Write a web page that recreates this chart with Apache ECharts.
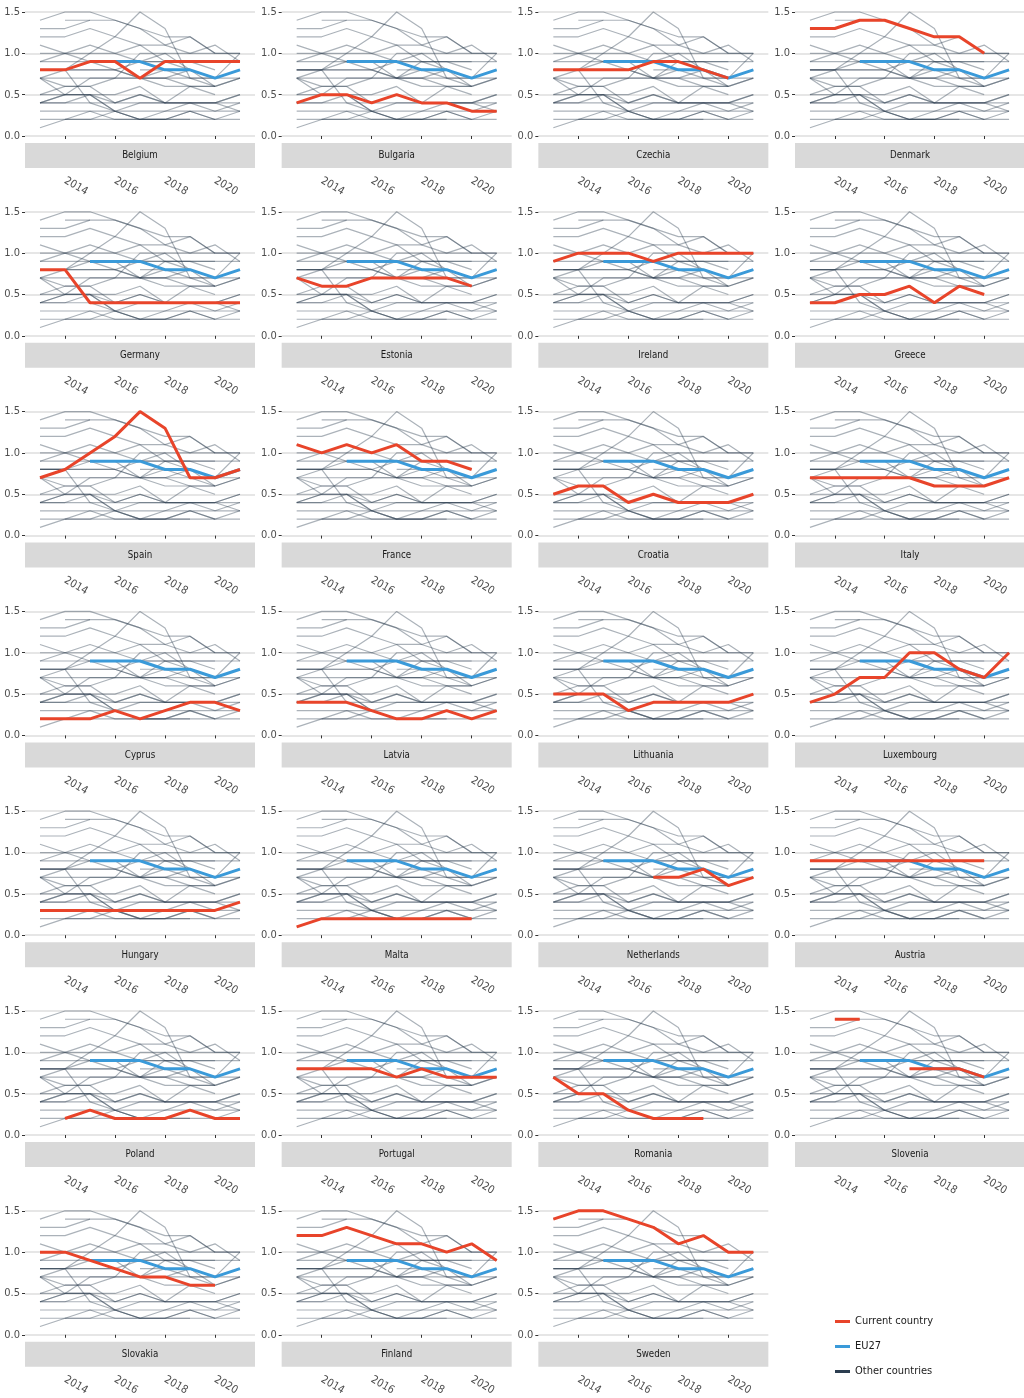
<!DOCTYPE html>
<html><head><meta charset="utf-8">
<script src="https://cdn.jsdelivr.net/npm/echarts@6/dist/echarts.min.js"></script>
<style>html,body{margin:0;padding:0;background:#fff}#c{width:1024px;height:1398px}</style>
</head><body><div id="c"></div>
<script>
const years = [2013, 2014, 2015, 2016, 2017, 2018, 2019, 2020, 2021];
const xTicks = [2014, 2016, 2018, 2020];
const yTicks = [0, 0.5, 1.0, 1.5];

const eu27       = [null, null, 0.9, 0.9, 0.9, 0.8, 0.8, 0.7, 0.8];
const belgium    = [0.8, 0.8, 0.9, 0.9, 0.7, 0.9, 0.9, 0.9, 0.9];
const bulgaria   = [0.4, 0.5, 0.5, 0.4, 0.5, 0.4, 0.4, 0.3, 0.3];
const czechia    = [0.8, 0.8, 0.8, 0.8, 0.9, 0.9, 0.8, 0.7, null];
const denmark    = [1.3, 1.3, 1.4, 1.4, 1.3, 1.2, 1.2, 1.0, null];
const germany    = [0.8, 0.8, 0.4, 0.4, 0.4, 0.4, 0.4, 0.4, 0.4];
const estonia    = [0.7, 0.6, 0.6, 0.7, 0.7, 0.7, 0.7, 0.6, null];
const ireland    = [0.9, 1.0, 1.0, 1.0, 0.9, 1.0, 1.0, 1.0, 1.0];
const greece     = [0.4, 0.4, 0.5, 0.5, 0.6, 0.4, 0.6, 0.5, null];
const spain      = [0.7, 0.8, 1.0, 1.2, 1.5, 1.3, 0.7, 0.7, 0.8];
const france     = [1.1, 1.0, 1.1, 1.0, 1.1, 0.9, 0.9, 0.8, null];
const croatia    = [0.5, 0.6, 0.6, 0.4, 0.5, 0.4, 0.4, 0.4, 0.5];
const italy      = [0.7, 0.7, 0.7, 0.7, 0.7, 0.6, 0.6, 0.6, 0.7];
const cyprus     = [0.2, 0.2, 0.2, 0.3, 0.2, 0.3, 0.4, 0.4, 0.3];
const latvia     = [0.4, 0.4, 0.4, 0.3, 0.2, 0.2, 0.3, 0.2, 0.3];
const lithuania  = [0.5, 0.5, 0.5, 0.3, 0.4, 0.4, 0.4, 0.4, 0.5];
const luxembourg = [0.4, 0.5, 0.7, 0.7, 1.0, 1.0, 0.8, 0.7, 1.0];
const hungary    = [0.3, 0.3, 0.3, 0.3, 0.3, 0.3, 0.3, 0.3, 0.4];
const malta      = [0.1, 0.2, 0.2, 0.2, 0.2, 0.2, 0.2, 0.2, null];
const netherlands= [null, null, null, null, 0.7, 0.7, 0.8, 0.6, 0.7];
const austria    = [0.9, 0.9, 0.9, 0.9, 0.9, 0.9, 0.9, 0.9, null];
const poland     = [null, 0.2, 0.3, 0.2, 0.2, 0.2, 0.3, 0.2, 0.2];
const portugal   = [0.8, 0.8, 0.8, 0.8, 0.7, 0.8, 0.7, 0.7, 0.7];
const romania    = [0.7, 0.5, 0.5, 0.3, 0.2, 0.2, 0.2, null, null];
const slovenia   = [null, 1.4, 1.4, null, 0.8, 0.8, 0.8, 0.7, null];
const slovakia   = [1.0, 1.0, 0.9, 0.8, 0.7, 0.7, 0.6, 0.6, null];
const finland    = [1.2, 1.2, 1.3, 1.2, 1.1, 1.1, 1.0, 1.1, 0.9];
const sweden     = [1.4, 1.5, 1.5, 1.4, 1.3, 1.1, 1.2, 1.0, 1.0];

const countryNames = ['Belgium','Bulgaria','Czechia','Denmark','Germany','Estonia','Ireland','Greece',
  'Spain','France','Croatia','Italy','Cyprus','Latvia','Lithuania','Luxembourg','Hungary','Malta',
  'Netherlands','Austria','Poland','Portugal','Romania','Slovenia','Slovakia','Finland','Sweden'];
const countryValues = [belgium,bulgaria,czechia,denmark,germany,estonia,ireland,greece,
  spain,france,croatia,italy,cyprus,latvia,lithuania,luxembourg,hungary,malta,
  netherlands,austria,poland,portugal,romania,slovenia,slovakia,finland,sweden];

const RED = '#e8442a', BLUE = '#3a9ad9', DARK = '#2c3e50';
const FONT = '"Liberation Sans Narrow", "Arial Narrow", "DejaVu Sans Condensed", "Liberation Sans", Arial, sans-serif';
const colPitch = 256.67, rowPitch = 199.8;
const panelW = 230, panelH = 124;

function toPairs(arr) { return years.map((y, i) => [y, arr[i] == null ? '-' : arr[i]]); }

const grids = [], xAxes = [], yAxes = [], series = [], graphics = [];
countryNames.forEach((name, p) => {
  const c = p % 4, r = Math.floor(p / 4);
  const left = 25 + c * colPitch, top = 12 + r * rowPitch;
  grids.push({ left: left, top: top, width: panelW, height: panelH });
  xAxes.push({
    gridIndex: p, type: 'value', min: 2012.4, max: 2021.6, offset: 32,
    axisLine: { show: false },
    axisTick: { show: true, customValues: xTicks, length: 3, lineStyle: { color: '#333', width: 1 } },
    axisLabel: { customValues: xTicks, rotate: -30, margin: 12, color: '#4d4d4d', fontSize: 11, fontFamily: FONT,
      formatter: v => String(v) },
    splitLine: { show: false }
  });
  yAxes.push({
    gridIndex: p, type: 'value', min: 0, max: 1.5, interval: 0.5,
    axisLine: { show: false },
    axisTick: { show: true, length: 3, lineStyle: { color: '#333', width: 1 } },
    axisLabel: { margin: 5, color: '#4d4d4d', fontSize: 11, fontFamily: FONT, formatter: v => v.toFixed(1) },
    splitLine: { show: true, lineStyle: { color: '#e6e6e6', width: 2 } }
  });
  countryValues.forEach((vals, k) => {
    series.push({
      type: 'line', name: 'Other countries', xAxisIndex: p, yAxisIndex: p, data: toPairs(vals),
      symbol: 'none', silent: true, clip: false, z: 1, connectNulls: false,
      lineStyle: { color: DARK, width: 1.2, opacity: 0.4 }, itemStyle: { color: DARK }
    });
  });
  series.push({
    type: 'line', name: 'EU27', xAxisIndex: p, yAxisIndex: p, data: toPairs(eu27),
    symbol: 'none', silent: true, clip: false, z: 2,
    lineStyle: { color: BLUE, width: 3 }, itemStyle: { color: BLUE }
  });
  series.push({
    type: 'line', name: 'Current country', xAxisIndex: p, yAxisIndex: p, data: toPairs(countryValues[p]),
    symbol: 'none', silent: true, clip: false, z: 3, connectNulls: false,
    lineStyle: { color: RED, width: 3 }, itemStyle: { color: RED }
  });
  graphics.push({ type: 'rect', left: left, top: top + 131, silent: true,
    shape: { width: panelW, height: 25 }, style: { fill: '#d9d9d9' }, z: 0 });
  graphics.push({ type: 'text', x: left + panelW / 2, y: top + 143.5, silent: true, scaleX: 0.88,
    style: { text: name, fill: '#1a1a1a', font: '11px ' + FONT, textAlign: 'center', textVerticalAlign: 'middle' }, z: 1 });
});

const chart = echarts.init(document.getElementById('c'), null, { renderer: 'canvas' });
chart.setOption({
  animation: false,
  backgroundColor: '#fff',
  grid: grids, xAxis: xAxes, yAxis: yAxes, series: series,
  graphic: graphics,
  legend: {
    orient: 'vertical', left: 835, top: 1315, padding: 0, icon: 'rect', itemWidth: 15, itemHeight: 3, itemGap: 12,
    selectedMode: false,
    textStyle: { color: '#1a1a1a', fontSize: 11, fontFamily: FONT, lineHeight: 13 },
    data: [
      { name: 'Current country', itemStyle: { color: RED } },
      { name: 'EU27', itemStyle: { color: BLUE } },
      { name: 'Other countries', itemStyle: { color: DARK, opacity: 1 } }
    ]
  }
});
</script></body></html>
